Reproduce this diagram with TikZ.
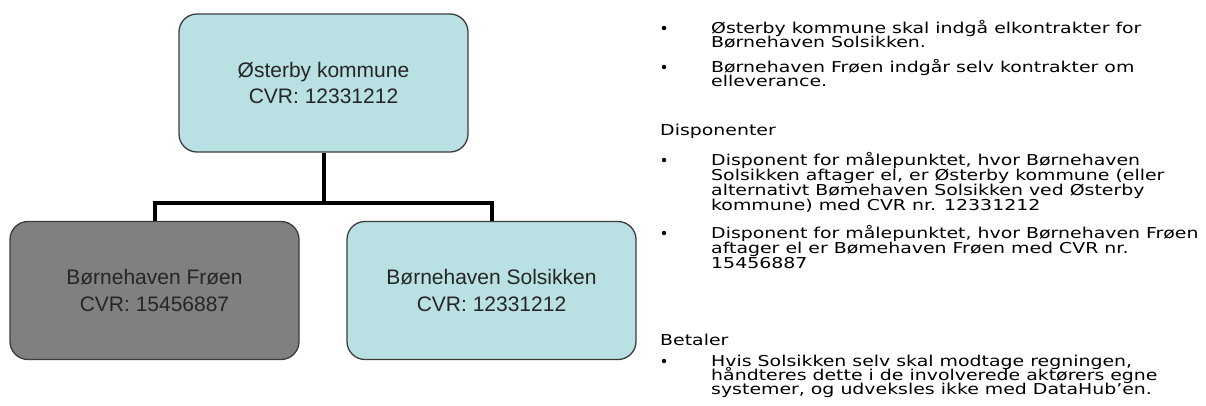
\documentclass[tikz,border=0pt]{standalone}
\usepackage{fontspec}
\setmainfont{Liberation Sans}
\newfontfamily\notefont[FakeStretch=1.26]{DejaVu Sans}
\definecolor{boxblue}{HTML}{B9E0E3}
\definecolor{boxgray}{HTML}{808080}
\definecolor{boxedge}{HTML}{3C3C3C}
\begin{document}
\begin{tikzpicture}[x=1pt,y=-1pt,
  orgbox/.style={draw=boxedge, line width=1.3pt, rounded corners=18pt,
    minimum width=289pt, minimum height=138pt, align=center, inner sep=0pt,
    font=\fontsize{21}{26.7}\selectfont, text=black!85},
  link/.style={line width=4pt, draw=black},
  note/.style={anchor=base west, inner sep=0pt, text=black,
    font=\notefont\fontsize{15}{15}\selectfont},
  dot/.style={circle, fill=black, inner sep=0pt, minimum size=4.5pt}]
\useasboundingbox (0,0) rectangle (1206,405);
% org chart
\node[orgbox, fill=boxblue] (top) at (323.5,83) {Østerby kommune\\CVR: 12331212};
\node[orgbox, fill=boxgray] (froen) at (154.5,290.5) {Børnehaven Frøen\\CVR: 15456887};
\node[orgbox, fill=boxblue] (sol) at (491.5,290.5) {Børnehaven Solsikken\\CVR: 12331212};
\coordinate (hub) at (323.5,203);
\draw[link] (top.south) -- (hub);
\draw[link] (froen.north) |- (hub) -| (sol.north);
% notes
\node[dot] (u1) at (664,28) {};
\node[note] (a1) at (711,33) {Østerby kommune skal indgå elkontrakter for};
\node[note] (a2) at (711,47.5) {Børnehaven Solsikken.};
\node[dot] (u2) at (664,67) {};
\node[note] (b1) at (711,72) {Børnehaven Frøen indgår selv kontrakter om};
\node[note] (b2) at (711,86.5) {elleverance.};
\node[note] (dh) at (660,135) {Disponenter};
\node[dot] (u3) at (664,160) {};
\node[note] (c1) at (711,165) {Disponent for målepunktet, hvor Børnehaven};
\node[note] (c2) at (711,180) {Solsikken aftager el, er Østerby kommune (eller};
\node[note] (c3) at (711,195) {alternativt Bømehaven Solsikken ved Østerby};
\node[note] (c4) at (711,210) {kommune) med CVR nr. 12331212};
\node[dot] (u4) at (664,233) {};
\node[note] (d1) at (711,238) {Disponent for målepunktet, hvor Børnehaven Frøen};
\node[note] (d2) at (711,253) {aftager el er Bømehaven Frøen med CVR nr.};
\node[note] (d3) at (711,268) {15456887};
\node[note] (bh) at (660,345) {Betaler};
\node[dot] (u5) at (664,361) {};
\node[note] (e1) at (711,366) {Hvis Solsikken selv skal modtage regningen,};
\node[note] (e2) at (711,380) {håndteres dette i de involverede aktørers egne};
\node[note] (e3) at (711,394) {systemer, og udveksles ikke med DataHub’en.};
\end{tikzpicture}
\end{document}
